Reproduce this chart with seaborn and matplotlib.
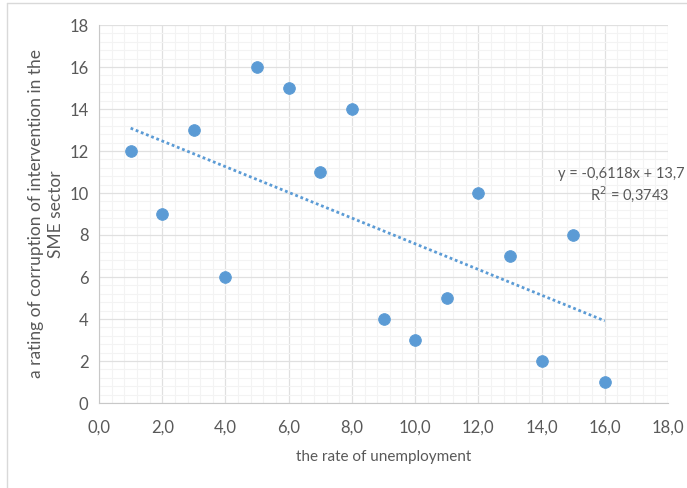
import numpy as np
import pandas as pd
import matplotlib
matplotlib.use('Agg')
import matplotlib.pyplot as plt
import seaborn as sns
from matplotlib.ticker import MultipleLocator, FuncFormatter
from matplotlib.lines import Line2D

# Data
unemployment = [1, 2, 3, 4, 5, 6, 7, 8, 9, 10, 11, 12, 13, 14, 15, 16]
corruption = [12, 9, 13, 6, 16, 15, 11, 14, 4, 3, 5, 10, 7, 2, 8, 1]
equation_text = "y = -0,6118x + 13,7"
r2_text = "R$^2$ = 0,3743"

df = pd.DataFrame({'x': unemployment, 'y': corruption})

sns.set_style('white')
plt.rcParams['font.family'] = ['Lato', 'DejaVu Sans']

blue = '#5B9BD5'
grey = '#595959'

fig = plt.figure(figsize=(6.87, 4.88), dpi=100)
W, H = 687, 488
ax = fig.add_axes([99 / W, 1 - 403 / H, (668 - 99) / W, (403 - 25) / H])

sns.scatterplot(data=df, x='x', y='y', ax=ax, color=blue, s=70, edgecolor=blue, zorder=3)
sns.regplot(data=df, x='x', y='y', ax=ax, scatter=False, ci=None, truncate=True,
            line_kws={'color': blue, 'linestyle': (0, (1, 1)), 'linewidth': 2})

ax.set_xlim(0, 18)
ax.set_ylim(0, 18)
ax.xaxis.set_major_locator(MultipleLocator(2))
ax.yaxis.set_major_locator(MultipleLocator(2))
ax.xaxis.set_minor_locator(MultipleLocator(0.4))
ax.yaxis.set_minor_locator(MultipleLocator(0.4))
ax.xaxis.set_major_formatter(FuncFormatter(lambda v, p: f"{v:.1f}".replace('.', ',')))
ax.yaxis.set_major_formatter(FuncFormatter(lambda v, p: f"{int(v)}"))

ax.grid(True, which='major', color='#e0e0e0', linewidth=0.9)
ax.grid(True, which='minor', color='#f3f3f3', linewidth=0.8)
ax.set_axisbelow(True)
for s in ['top', 'right']:
    ax.spines[s].set_visible(False)
for s in ['left', 'bottom']:
    ax.spines[s].set_color('#c8c8c8')
ax.tick_params(axis='both', which='major', labelsize=12, colors=grey, length=4, color='#c8c8c8')
ax.tick_params(axis='both', which='minor', length=0)
ax.tick_params(axis='x', pad=8)

ax.set_xlabel('the rate of unemployment', fontsize=11, color=grey, labelpad=10)
ax.set_ylabel('a rating of corruption of intervention in the\nSME sector', fontsize=12.5,
              color=grey, labelpad=4, linespacing=1.3)

ax.text(621 / W, 1 - 174 / H, equation_text, transform=fig.transFigure, fontsize=10.5,
        color=grey, ha='center', va='center', clip_on=False)
ax.text(630 / W, 1 - 194 / H, r2_text, transform=fig.transFigure, fontsize=10.5,
        color=grey, ha='center', va='center', clip_on=False)

# chart area frame
fig.add_artist(Line2D([7 / W, 7 / W], [0, 1 - 3 / H], transform=fig.transFigure, color='#d9d9d9', lw=1))
fig.add_artist(Line2D([7 / W, 1], [1 - 3 / H, 1 - 3 / H], transform=fig.transFigure, color='#d9d9d9', lw=1))

fig.savefig('out.png', dpi=100)
